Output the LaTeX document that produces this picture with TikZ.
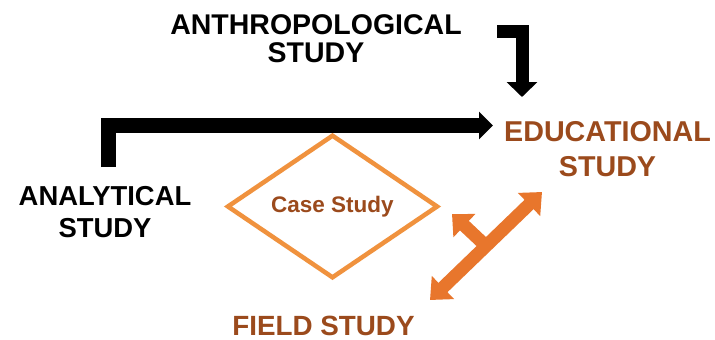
\documentclass[tikz,border=0pt]{standalone}
\usepackage{fontspec}
\setmainfont{Liberation Sans}
\usetikzlibrary{arrows.meta,shapes.geometric,calc}
\definecolor{brownt}{HTML}{9B4A1C}
\definecolor{orangea}{HTML}{E8762C}
\definecolor{oranged}{HTML}{F0923E}
\begin{document}
\begin{tikzpicture}[x=1pt,y=-1pt,
  lbl/.style={inner sep=0pt,align=center,font=\fontsize{28.5}{28}\selectfont\bfseries},
  blackarrow/.style={draw=black,line width=14pt,line join=miter,
     -{Triangle[width=28pt,length=14pt]}},
  orangearrow/.style={draw=orangea,line width=13pt,line join=miter}]
\useasboundingbox (0,0) rectangle (715,340);
\fill[white] (0,0) rectangle (715,340);
% labels
\node[lbl,font=\fontsize{28.5}{28}\selectfont\bfseries] (anthro) at (316,38.5) {ANTHROPOLOGICAL\\STUDY};
\node[lbl,text=brownt,font=\fontsize{28.7}{35}\selectfont\bfseries] (educ) at (607.5,149.5) {EDUCATIONAL\\STUDY};
\node[lbl,font=\fontsize{27.4}{32}\selectfont\bfseries] (analyt) at (105,212) {ANALYTICAL\\STUDY};
\node[lbl,text=brownt,font=\fontsize{27.8}{28}\selectfont\bfseries] (field) at (323.5,326) {FIELD STUDY};
\node[diamond,draw=oranged,line width=4.5pt,inner sep=0pt,minimum width=211pt,minimum height=135pt,
  text=brownt,font=\fontsize{22.5}{24}\selectfont\bfseries] (case) at (332.5,206.5) {Case Study};
% coordinates for free ends
\coordinate (anthroStart) at (497,31.5);
\coordinate (educTop) at (522,97);
\coordinate (analytTop) at (108,167);
\coordinate (educLeft) at (493,125.5);
\coordinate (fieldEnd) at (430,300);
\coordinate (educEnd) at (542,192);
\coordinate (midJ) at ($(fieldEnd)!0.5!(educEnd)$);
\coordinate (branchTip) at (452,214);
% black arrows
\draw[blackarrow,line width=13pt,-{Triangle[width=30pt,length=15pt]}] (anthroStart) -| (educTop);
\draw[blackarrow,line width=15pt,-{Triangle[width=27pt,length=14pt]}] (analytTop) |- (educLeft);
% orange arrows
\draw[orangearrow,{Triangle[width=31pt,length=18pt]}-{Triangle[width=31pt,length=18pt]}] (fieldEnd) -- (educEnd);
\draw[orangearrow,-{Triangle[width=31pt,length=17pt]}] (midJ) -- (branchTip);
\end{tikzpicture}
\end{document}
